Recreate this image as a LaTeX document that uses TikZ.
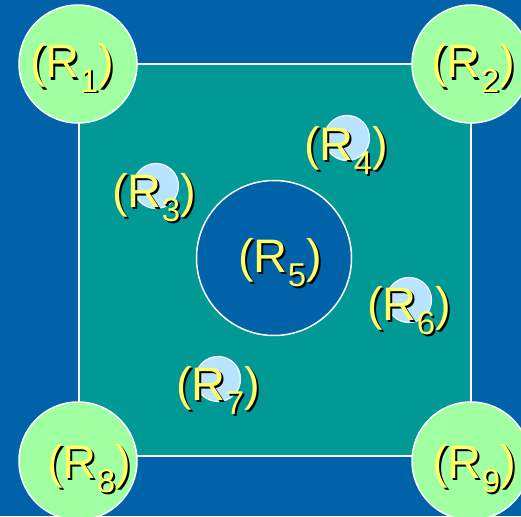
\documentclass[tikz,border=0pt]{standalone}
\usepackage{fontspec}
\setmainfont{Liberation Sans}
\definecolor{bgblue}{RGB}{0,99,170}
\definecolor{teal2}{RGB}{0,153,150}
\definecolor{lgreen}{RGB}{160,255,160}
\definecolor{lblue}{RGB}{185,228,255}
\definecolor{lyellow}{RGB}{255,255,102}
\newcommand\mysub[1]{\raisebox{-14pt}{\fontsize{33}{33}\selectfont #1}}
\newcommand\rtext[1]{(R\mysub{#1})}
\newcommand\shtext[1]{\makebox[0pt][l]{\hspace{2pt}\raisebox{-2pt}{\color{black}\rtext{#1}}}\color{lyellow}\rtext{#1}}
\tikzset{
  big/.style={circle,draw=white,line width=1.5pt,fill=lgreen,minimum size=118pt,inner sep=0pt},
  small/.style={circle,draw=white,line width=1.2pt,fill=lblue,minimum size=45pt,inner sep=0pt},
  mid/.style={circle,draw=white,line width=1.5pt,fill=bgblue,minimum size=155pt,inner sep=0pt},
  lab/.style={inner sep=0pt,anchor=base west,font=\fontsize{47}{47}\selectfont}
}
\newcommand\reglab[4]{\node[lab] (#1) at (#2,#3) {\shtext{#4}};}
\begin{document}
\begin{tikzpicture}[x=1pt,y=-1pt]
\useasboundingbox (0,0) rectangle (521,516);
\begin{scope}
\clip (0,0) rectangle (521,516);
\fill[bgblue] (0,0) rectangle (521,516);
\node[draw=white,line width=1.5pt,fill=teal2,minimum width=392pt,minimum height=392pt,inner sep=0pt] (sq) at (275,260) {};
\node[big] (c1) at (78,64) {};
\node[big] (c2) at (471,64) {};
\node[big] (c8) at (78,461) {};
\node[big] (c9) at (471,461) {};
\node[mid] (c5) at (274,258) {};
\node[small] (c3) at (156,186) {};
\node[small] (c4) at (347,138) {};
\node[small] (c6) at (409,300) {};
\node[small] (c7) at (218,379) {};
\reglab{l1}{30}{78}{1}
\reglab{l2}{431}{78}{2}
\reglab{l3}{112}{207}{3}
\reglab{l4}{304}{160}{4}
\reglab{l5}{238}{272}{5}
\reglab{l6}{367}{320}{6}
\reglab{l7}{176}{400}{7}
\reglab{l8}{47}{478}{8}
\reglab{l9}{432}{478}{9}
\end{scope}
\end{tikzpicture}
\end{document}
